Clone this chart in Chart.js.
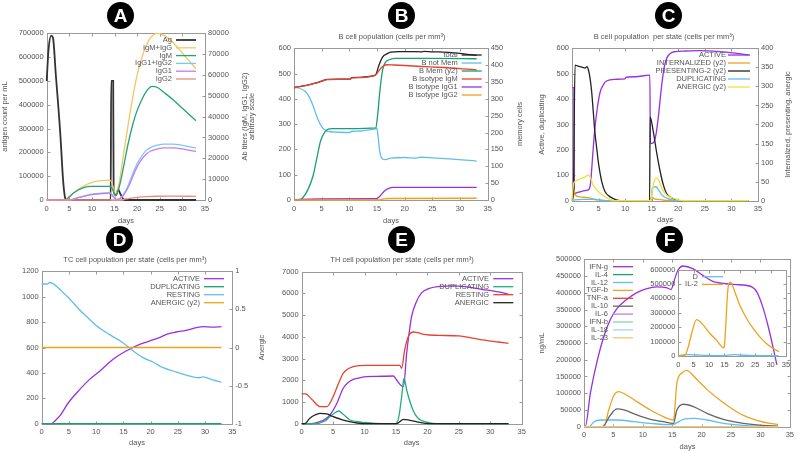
<!DOCTYPE html>
<html>
<head>
<meta charset="utf-8">
<script src="https://cdn.jsdelivr.net/npm/chart.js@4.4.0/dist/chart.umd.min.js"></script>
<style>
  body { margin: 0; background: #fff; }
  #wrap { position: relative; width: 798px; height: 452px; overflow: hidden; }
  canvas { position: absolute; }
  .badge { position: absolute; width: 27px; height: 27px; border-radius: 50%; background: #000; color: #fff;
           font: bold 19px 'Liberation Sans', Arial, sans-serif; text-align: center; line-height: 27px; z-index: 5; }
</style>
</head>
<body>
<div id="wrap">
  <div class="badge" style="left:107px;top:2px">A</div>
  <div class="badge" style="left:388px;top:2px">B</div>
  <div class="badge" style="left:655px;top:2px">C</div>
  <div class="badge" style="left:106px;top:226px">D</div>
  <div class="badge" style="left:388px;top:226px">E</div>
  <div class="badge" style="left:656px;top:226px">F</div>
</div>
<script>
// ---- data: [day, value] ----
// A: antigen and antibody titers
const agLoad = [[0,500000],[0.4,630000],[1,690000],[1.4,680000],[2,530000],[3,280000],[3.6,90000],[4,15000],[4.3,0],[14.15,0],[14.25,500000],[14.7,500000],[14.8,40000],[15.3,20000],[15.8,45000],[16.3,25000],[17.2,0],[33,0]];
const igmIgg = [[0,0],[4,0],[5,1500],[6,3500],[8,6500],[10,8500],[12,9300],[14,9500],[14.6,7000],[15.2,3000],[16,8000],[17,22000],[18,36000],[19,49000],[20,60000],[21,68000],[22,74000],[23,78000],[24.4,80000],[25.5,79500],[27,77500],[29,73000],[31,68000],[33,63000]];
const igm = [[0,0],[4,0],[5,1500],[6,3500],[8,5800],[10,6500],[14,6500],[14.6,5000],[15.2,2000],[16,6000],[17,16000],[18,27000],[19,36000],[20,43000],[21,48000],[22,52000],[23.3,54500],[24.5,54000],[26,51500],[28,48000],[30,44000],[33,38000]];
const igg12 = [[0,0],[5,0],[7,1200],[10,2800],[13,3400],[14,3500],[14.8,1500],[15.5,300],[16.2,800],[17,2800],[18,7000],[19,12500],[20,17500],[21,21000],[22,23800],[23,25200],[24.5,26300],[26,26800],[28,26800],[30,26200],[33,25000]];
const igg1 = [[0,0],[5,0],[7,1100],[10,2600],[13,3200],[14,3300],[14.8,1400],[15.5,250],[16.2,600],[17,2300],[18,6000],[19,11000],[20,16000],[21,19500],[22,22000],[23,23500],[24.5,24500],[26,25000],[28,25000],[30,24500],[33,23300]];
const igg2 = [[0,0],[16,0],[17,300],[18,700],[20,1300],[22,1650],[24,1800],[28,1850],[33,1750]];

// B: B cell population
const bTotal = [[0,445],[1,448],[2,452],[3,457],[4,463],[5,470],[6,477],[8,478],[10,478],[10.5,484],[12,485],[13,487],[14,490],[14.8,497],[15.3,530],[16,565],[16.8,578],[17.5,585],[19,587],[21,587],[23,586],[23.5,588],[25,586],[27,585],[29,582],[31,577],[33,572]];
const bNotMem = [[0,445],[1,442],[2,430],[2.7,410],[3.5,370],[4.3,320],[5,290],[5.7,275],[6.5,270],[8,268],[10,267],[10.5,272],[12,273],[13,276],[14.5,280],[15,282],[15.2,250],[15.5,190],[16,162],[16.5,160],[17.5,166],[20,168],[22,166],[23,169],[25,167],[28,163],[31,158],[33,154]];
const bMem = [[0,0],[1,0],[1.5,5],[2.5,30],[3.5,75],[4.2,130],[4.8,175],[5.5,200],[6.2,210],[7,212],[10,212],[14.8,214],[15.1,250],[15.5,320],[16,385],[16.5,408],[17.2,416],[18.5,420],[25,420],[33,419]];
const bIgM = [[0,445],[1,448],[2,452],[3,457],[4,463],[5,470],[6,476],[8,477],[10,477],[10.5,483],[12,484],[14,489],[14.8,495],[15.3,510],[16,528],[16.8,535],[18,534],[20,532],[23,528],[26,525],[30,520],[33,515]];
const bIgG1 = [[0,0],[1,2],[5,4],[14.8,5],[15.5,15],[16.3,35],[17,45],[18,50],[33,50]];
const bIgG2 = [[0,0],[15,0],[16,3],[17,6],[33,7]];

// C: B cell population per state
const cActive = [[0,445],[0.35,445],[0.45,25],[0.7,30],[1.5,35],[2.5,40],[3.2,45],[3.5,70],[3.9,180],[4.3,284],[4.8,370],[5.3,428],[6,460],[6.5,471],[8,478],[10,480],[10.2,486],[12,488],[14.5,494],[14.65,494],[14.75,225],[15.3,228],[15.8,260],[16.3,340],[16.8,440],[17.3,520],[17.8,560],[18.5,580],[19.5,587],[21,589],[24,591],[27,588],[29.8,583],[33.2,574]];
const cInternal = [[0,0],[0.3,30],[0.6,15],[1.5,10],[3,8],[4,5],[5,2],[6,0],[14.6,0],[14.9,10],[15.5,5],[17,2],[18,0],[33.2,0]];
const cPresent = [[0,0],[0.25,15],[0.57,356],[1,354],[1.5,352],[2,350],[2.45,348],[2.8,352],[3.1,343],[3.4,321],[3.7,286],[4,234],[4.3,181],[4.65,138],[4.95,102],[5.6,50],[6.2,24],[7.2,10],[8.4,2],[9,0],[14.6,0],[14.7,220],[15.3,181],[15.9,129],[16.6,76],[17.2,41],[17.8,19],[19.1,5],[20,0],[33.2,0]];
const cDup = [[0,0],[0.5,3],[2,5],[4,5],[5,3],[6.5,0],[14.9,0],[15.1,49],[15.8,55],[16.3,42],[16.9,23],[17.8,10],[19,2],[20,0],[33.2,0]];
const cAnergic = [[0,0],[0.3,45],[0.5,50],[1.5,57],[2.45,62],[3.1,68],[3.4,62],[4,41],[4.95,24],[5.9,13],[7.2,3],[8,0],[14.8,0],[15.3,41],[15.8,60],[16.3,55],[16.9,33],[17.8,15],[19.1,6],[21,0],[33.2,0]];

// D: TC cell population per state
const dActive = [[0,0],[1.8,0],[2.5,25],[3.4,66],[4.9,165],[7,270],[8.8,349],[10.7,415],[13.1,507],[15.5,572],[18,625],[19.8,651],[21.6,677],[22.9,703],[24.7,722],[26.5,735],[28.4,756],[29.6,764],[31.4,761],[33,764]];
const dResting = [[0,1100],[1,1100],[1.5,1112],[2,1105],[4.6,1005],[7,895],[8.8,821],[10,774],[12.4,703],[14.9,638],[16.8,572],[18.6,520],[20.4,486],[22.3,441],[24.1,415],[26.5,383],[28.9,362],[29.6,368],[31.4,345],[33,328]];
const dDup = [[0,0],[33,0]];
const dAnergic = [[0,0],[33,0]];

// E: TH cell population per state
const eActive = [[0,0],[1.5,0],[2.9,92],[3.7,200],[4.5,400],[5.6,940],[6.6,1630],[7.4,1900],[8.2,2045],[9.5,2130],[10.3,2165],[12,2180],[14.6,2197],[15.1,2013],[15.9,1736],[16.2,1720],[16.7,3243],[17.1,4200],[17.5,4960],[18.3,5650],[19.1,6036],[20.2,6220],[21.7,6313],[23.9,6344],[26,6313],[28.6,6190],[31.3,6067],[32.9,5960]];
const eDup = [[0,0],[2,0],[3.7,123],[4.5,330],[5.6,553],[5.9,584],[6.6,430],[7.7,170],[9.5,77],[10.3,46],[11.7,15],[13,0],[15.1,0],[15.5,400],[15.9,1244],[16.2,2000],[16.3,2090],[16.7,1552],[17.7,630],[18.5,250],[20.2,46],[21.5,0],[32.9,0]];
const eResting = [[0,1370],[0.6,1370],[1.6,1121],[2.9,790],[4,783],[5,1244],[5.8,1812],[6.6,2321],[8.2,2626],[10.3,2690],[12,2690],[15.6,2690],[15.9,2552],[16.4,3425],[17,4040],[17.8,4224],[18.4,4193],[19.7,4101],[21.7,4070],[25,4040],[28.2,3886],[31.3,3763],[32.9,3702]];
const eAnergic = [[0,0],[0.5,0],[1.3,250],[2.1,400],[2.9,478],[4,455],[5,322],[6.6,170],[8.2,60],[9.5,10],[10.3,0],[15.1,0],[16.2,203],[17.2,156],[18.5,70],[19.7,15],[21,0],[32.9,0]];

// F: cytokines (main) and inset
const fIFNg = [[0,0],[0.2,0],[1.1,101600],[2.3,201000],[3.4,271000],[4.5,321000],[5.6,352600],[7.3,380500],[9,400400],[10.7,412400],[12.4,417400],[14,415400],[14.8,410000],[15.4,440000],[16,468000],[16.8,480000],[18.5,472000],[20.2,452000],[21.8,435000],[24.1,427000],[26.4,424000],[28.6,417000],[29.4,402000],[30.3,363000],[31.4,294000],[32.8,184500]];
const fIL4 = [[0,0],[33,0]];
const fIL12 = [[0,0],[0.85,0],[1.7,15000],[2.8,20000],[5.6,20000],[8.5,15000],[11.3,10000],[14.7,6000],[15.2,7000],[16.9,22000],[18.6,25000],[20.9,20000],[23.7,10000],[27.1,4000],[30.4,1500],[33,500]];
const fTGFb = [[0,0],[3.4,0],[4.2,50000],[5.1,94000],[5.9,105000],[7.3,94000],[9,75000],[11.3,50000],[13.5,30000],[15.2,20000],[15.3,24000],[15.8,131000],[16.7,161000],[17.4,168000],[19.2,141000],[20.9,111500],[22.6,86700],[24.9,56800],[27.1,33900],[29.4,19000],[31.6,10000],[33,7000]];
const fTNFa = [[0,0],[33,0]];
const fIL10 = [[0,0],[3.1,0],[4.5,35000],[5.6,53000],[6.8,50000],[9,35000],[11.3,22000],[13.5,15000],[15.2,10000],[15.8,50000],[16.9,67000],[18.6,60000],[20.9,40000],[23.7,22000],[27.1,10000],[30.4,4000],[33,2000]];
const fIL6 = [[0,0],[33,0]];
const fIFNb = [[0,0],[33,0]];
const fIL18 = [[0,0],[33,0]];
const fIL23 = [[0,0],[33,0]];
const insetD = [[0,0],[1,6000],[2,9000],[3.5,9000],[5,8000],[7,6000],[10,4000],[14.5,2500],[15.5,4000],[17,8000],[18.5,9000],[20,7000],[23,4000],[27,2500],[32.7,1500]];
const insetIL2 = [[0,0],[1,1000],[2.2,5000],[3.25,64000],[4.33,156000],[5.95,253000],[8.1,214000],[10.27,156000],[12.4,110000],[14.8,57000],[14.9,60000],[16.2,478000],[16.96,512000],[18.4,443000],[20,352000],[22.2,260000],[24.3,191000],[26.5,133000],[28.6,87000],[30.8,53000],[32.7,30000]];

// ---- drawing ----
const FAM = "'Liberation Sans', Arial, sans-serif";
const INK = '#555';
const FS = 7.5;

const framePlugin = {
  id: 'frame',
  beforeDatasetsDraw(chart) {
    const {ctx, chartArea: a, scales} = chart;
    const l = Math.round(a.left) + 0.5, r = Math.round(a.right) + 0.5;
    const t = Math.round(a.top) + 0.5, b = Math.round(a.bottom) + 0.5;
    const tl = 3;
    ctx.save();
    ctx.strokeStyle = '#999';
    ctx.lineWidth = 1;
    ctx.strokeRect(l, t, r - l, b - t);
    ctx.beginPath();
    scales.x.ticks.forEach(k => {
      const px = Math.round(scales.x.getPixelForValue(k.value)) + 0.5;
      ctx.moveTo(px, b); ctx.lineTo(px, b - tl);
      ctx.moveTo(px, t); ctx.lineTo(px, t + tl);
    });
    scales.y.ticks.forEach(k => {
      const py = Math.round(scales.y.getPixelForValue(k.value)) + 0.5;
      ctx.moveTo(l, py); ctx.lineTo(l + tl, py);
      if (!scales.y2) { ctx.moveTo(r, py); ctx.lineTo(r - tl, py); }
    });
    if (scales.y2) {
      scales.y2.ticks.forEach(k => {
        const py = Math.round(scales.y2.getPixelForValue(k.value)) + 0.5;
        ctx.moveTo(r, py); ctx.lineTo(r - tl, py);
      });
    }
    ctx.stroke();
    ctx.restore();
  }
};

// gnuplot style key: text right aligned, sample line after it
const keyPlugin = {
  id: 'gkey',
  afterDatasetsDraw(chart) {
    const o = chart.canvas.keyOpt;
    if (!o) return;
    const ox = chart.canvas.offsetLeft, oy = chart.canvas.offsetTop;
    const ctx = chart.ctx;
    ctx.save();
    ctx.font = FS + 'px ' + FAM;
    ctx.textAlign = 'right';
    ctx.textBaseline = 'middle';
    chart.data.datasets.forEach((d, i) => {
      const y = o.y + i * o.dy - oy;
      ctx.fillStyle = INK;
      ctx.fillText(d.label, o.x - ox, y);
      ctx.strokeStyle = d.borderColor;
      ctx.lineWidth = d.borderWidth;
      ctx.beginPath();
      ctx.moveTo(o.l0 - ox, y);
      ctx.lineTo(o.l1 - ox, y);
      ctx.stroke();
    });
    ctx.restore();
  }
};

const textPlugin = {
  id: 'texts',
  afterDraw(chart) {
    const items = chart.canvas.texts || [];
    const ox = chart.canvas.offsetLeft, oy = chart.canvas.offsetTop;
    const ctx = chart.ctx;
    ctx.save();
    ctx.font = FS + 'px ' + FAM;
    ctx.fillStyle = INK;
    ctx.textAlign = 'center';
    ctx.textBaseline = 'middle';
    items.forEach(([txt, x, y, rot]) => {
      ctx.save();
      ctx.translate(x - ox, y - oy);
      if (rot) ctx.rotate(rot * Math.PI / 180);
      ctx.fillText(txt, 0, 0);
      ctx.restore();
    });
    ctx.restore();
  }
};

function axis(pos, lim, fit) {
  return {
    type: 'linear', position: pos, min: lim[0], max: lim[1],
    ticks: {stepSize: lim[2], padding: pos === 'bottom' ? 4 : 3, color: INK, font: {family: FAM, size: FS},
            maxRotation: 0, autoSkip: false, callback: v => String(v)},
    grid: {display: false, drawTicks: false},
    border: {display: false},
    afterFit: fit
  };
}

function panel(p) {
  const [bx, by, bw, bh] = p.box;
  const [L, T, R, B] = p.area;
  const cv = document.createElement('canvas');
  cv.width = bw; cv.height = bh;
  cv.style.left = bx + 'px'; cv.style.top = by + 'px';
  cv.keyOpt = p.key;
  cv.texts = p.texts;
  document.getElementById('wrap').appendChild(cv);

  const scales = {
    x: axis('bottom', [0, 35, 5], s => { s.height = by + bh - B; }),
    y: axis('left', p.y, s => { s.width = L - bx; })
  };
  if (p.y2) scales.y2 = axis('right', p.y2, s => { s.width = bx + bw - R; });

  new Chart(cv, {
    type: 'line',
    data: {
      datasets: p.series.map((s, i) => ({
        label: s[0],
        data: s[1].map(q => ({x: q[0], y: q[1]})),
        borderColor: s[2],
        yAxisID: s[3] || 'y',
        borderWidth: s[4] || 1.3,
        pointRadius: 0,
        fill: false,
        cubicInterpolationMode: 'monotone',
        clip: false,
        order: -i
      }))
    },
    options: {
      responsive: false,
      animation: false,
      devicePixelRatio: 1,
      layout: {padding: {top: T - by, left: 0, bottom: 0, right: p.y2 ? 0 : bx + bw - R}},
      plugins: {legend: {display: false}, tooltip: {enabled: false}},
      scales
    },
    plugins: [framePlugin, keyPlugin, textPlugin]
  });
}

const PURPLE = '#9a2fe0', GREEN = '#16a077', LBLUE = '#62bdec', ORANGE = '#eda31e',
      RED = '#e8402f', BLACK = '#222', YELLOW = '#f0e03a';

panel({
  box: [0, 0, 266, 226], area: [46.7, 33.3, 205, 200],
  y: [0, 700000, 100000], y2: [0, 80000, 10000],
  series: [
    ['Ag', agLoad, '#333', 'y', 1.8],
    ['IgM+IgG', igmIgg, '#f4c465', 'y2'],
    ['IgM', igm, '#24a37a', 'y2'],
    ['IgG1+IgG2', igg12, '#7cc8f0', 'y2'],
    ['IgG1', igg1, '#c57cf2', 'y2'],
    ['IgG2', igg2, '#ef8c82', 'y2']
  ],
  key: {x: 172, y: 40, dy: 7.8, l0: 176, l1: 196},
  texts: [['antigen count per mL', 5, 116.5, -90], ['Ab titers (IgM, IgG1, IgG2)', 245, 116.5, -90],
          ['arbitrary scale', 252.3, 116.5, -90], ['days', 126, 221, 0]]
});

panel({
  box: [266, 0, 266, 226], area: [294, 48.3, 487.7, 200],
  y: [0, 600, 100], y2: [0, 450, 50],
  series: [
    ['total', bTotal, BLACK],
    ['B not Mem', bNotMem, LBLUE],
    ['B Mem (y2)', bMem, GREEN, 'y2'],
    ['B isotype IgM', bIgM, RED],
    ['B isotype IgG1', bIgG1, PURPLE],
    ['B isotype IgG2', bIgG2, ORANGE]
  ],
  key: {x: 457.7, y: 55, dy: 8, l0: 461.7, l1: 481.7},
  texts: [['B cell population (cells per mm³)', 392, 37, 0], ['memory cells', 520, 124, -90], ['days', 391, 221, 0]]
});

panel({
  box: [532, 0, 266, 226], area: [572, 48.3, 758, 200.7],
  y: [0, 600, 100], y2: [0, 400, 50],
  series: [
    ['ACTIVE', cActive, PURPLE],
    ['INTERNALIZED (y2)', cInternal, ORANGE, 'y2'],
    ['PRESENTING-2 (y2)', cPresent, BLACK, 'y2'],
    ['DUPLICATING', cDup, LBLUE],
    ['ANERGIC (y2)', cAnergic, YELLOW, 'y2']
  ],
  key: {x: 726, y: 55, dy: 8, l0: 728, l1: 750},
  texts: [['B cell population  per state (cells per mm³)', 664, 37, 0], ['Active, duplicating', 542, 124.5, -90],
          ['Internalized, presenting, anergic', 788.3, 124.5, -90], ['days', 665, 220, 0]]
});

panel({
  box: [0, 226, 266, 226], area: [41.7, 271.3, 232.3, 423.7],
  y: [0, 1200, 200], y2: [-1, 1, 0.5],
  series: [
    ['ACTIVE', dActive, PURPLE],
    ['DUPLICATING', dDup, GREEN],
    ['RESTING', dResting, LBLUE],
    ['ANERGIC (y2)', dAnergic, ORANGE, 'y2']
  ],
  key: {x: 200, y: 278.7, dy: 8, l0: 204, l1: 224},
  texts: [['TC cell population per state (cells per mm³)', 135, 259.5, 0], ['Anergic', 262, 347.5, -90], ['days', 137, 443, 0]]
});

panel({
  box: [266, 226, 266, 226], area: [301.7, 271.7, 521.7, 423.7],
  y: [0, 7000, 1000],
  series: [
    ['ACTIVE', eActive, PURPLE],
    ['DUPLICATING', eDup, '#1fae80'],
    ['RESTING', eResting, RED],
    ['ANERGIC', eAnergic, BLACK]
  ],
  key: {x: 489, y: 278.7, dy: 8, l0: 493.3, l1: 513.3},
  texts: [['TH cell population per state (cells per mm³)', 402, 259.5, 0], ['days', 411.7, 443, 0]]
});

panel({
  box: [532, 226, 266, 226], area: [584, 259.3, 791, 426.7],
  y: [0, 500000, 50000],
  series: [
    ['IFN-g', fIFNg, PURPLE],
    ['IL-4', fIL4, GREEN],
    ['IL-12', fIL12, LBLUE],
    ['TGF-b', fTGFb, ORANGE],
    ['TNF-a', fTNFa, RED],
    ['IL-10', fIL10, '#666'],
    ['IL-6', fIL6, '#c57cf2'],
    ['IFN-b', fIFNb, '#7fd6b4'],
    ['IL-18', fIL18, '#9fd6f4'],
    ['IL-23', fIL23, '#f4c470']
  ],
  key: {x: 608, y: 266.7, dy: 7.9, l0: 613, l1: 633},
  texts: [['ng/mL', 542, 343, -90], ['days', 687.5, 446.7, 0]]
});

panel({
  box: [640, 262, 158, 108], area: [678.3, 269, 786, 356],
  y: [0, 600000, 100000],
  series: [
    ['D', insetD, LBLUE],
    ['IL-2', insetIL2, ORANGE]
  ],
  key: {x: 698, y: 276.7, dy: 7.7, l0: 702, l1: 723},
  texts: []
});
</script>
</body>
</html>
